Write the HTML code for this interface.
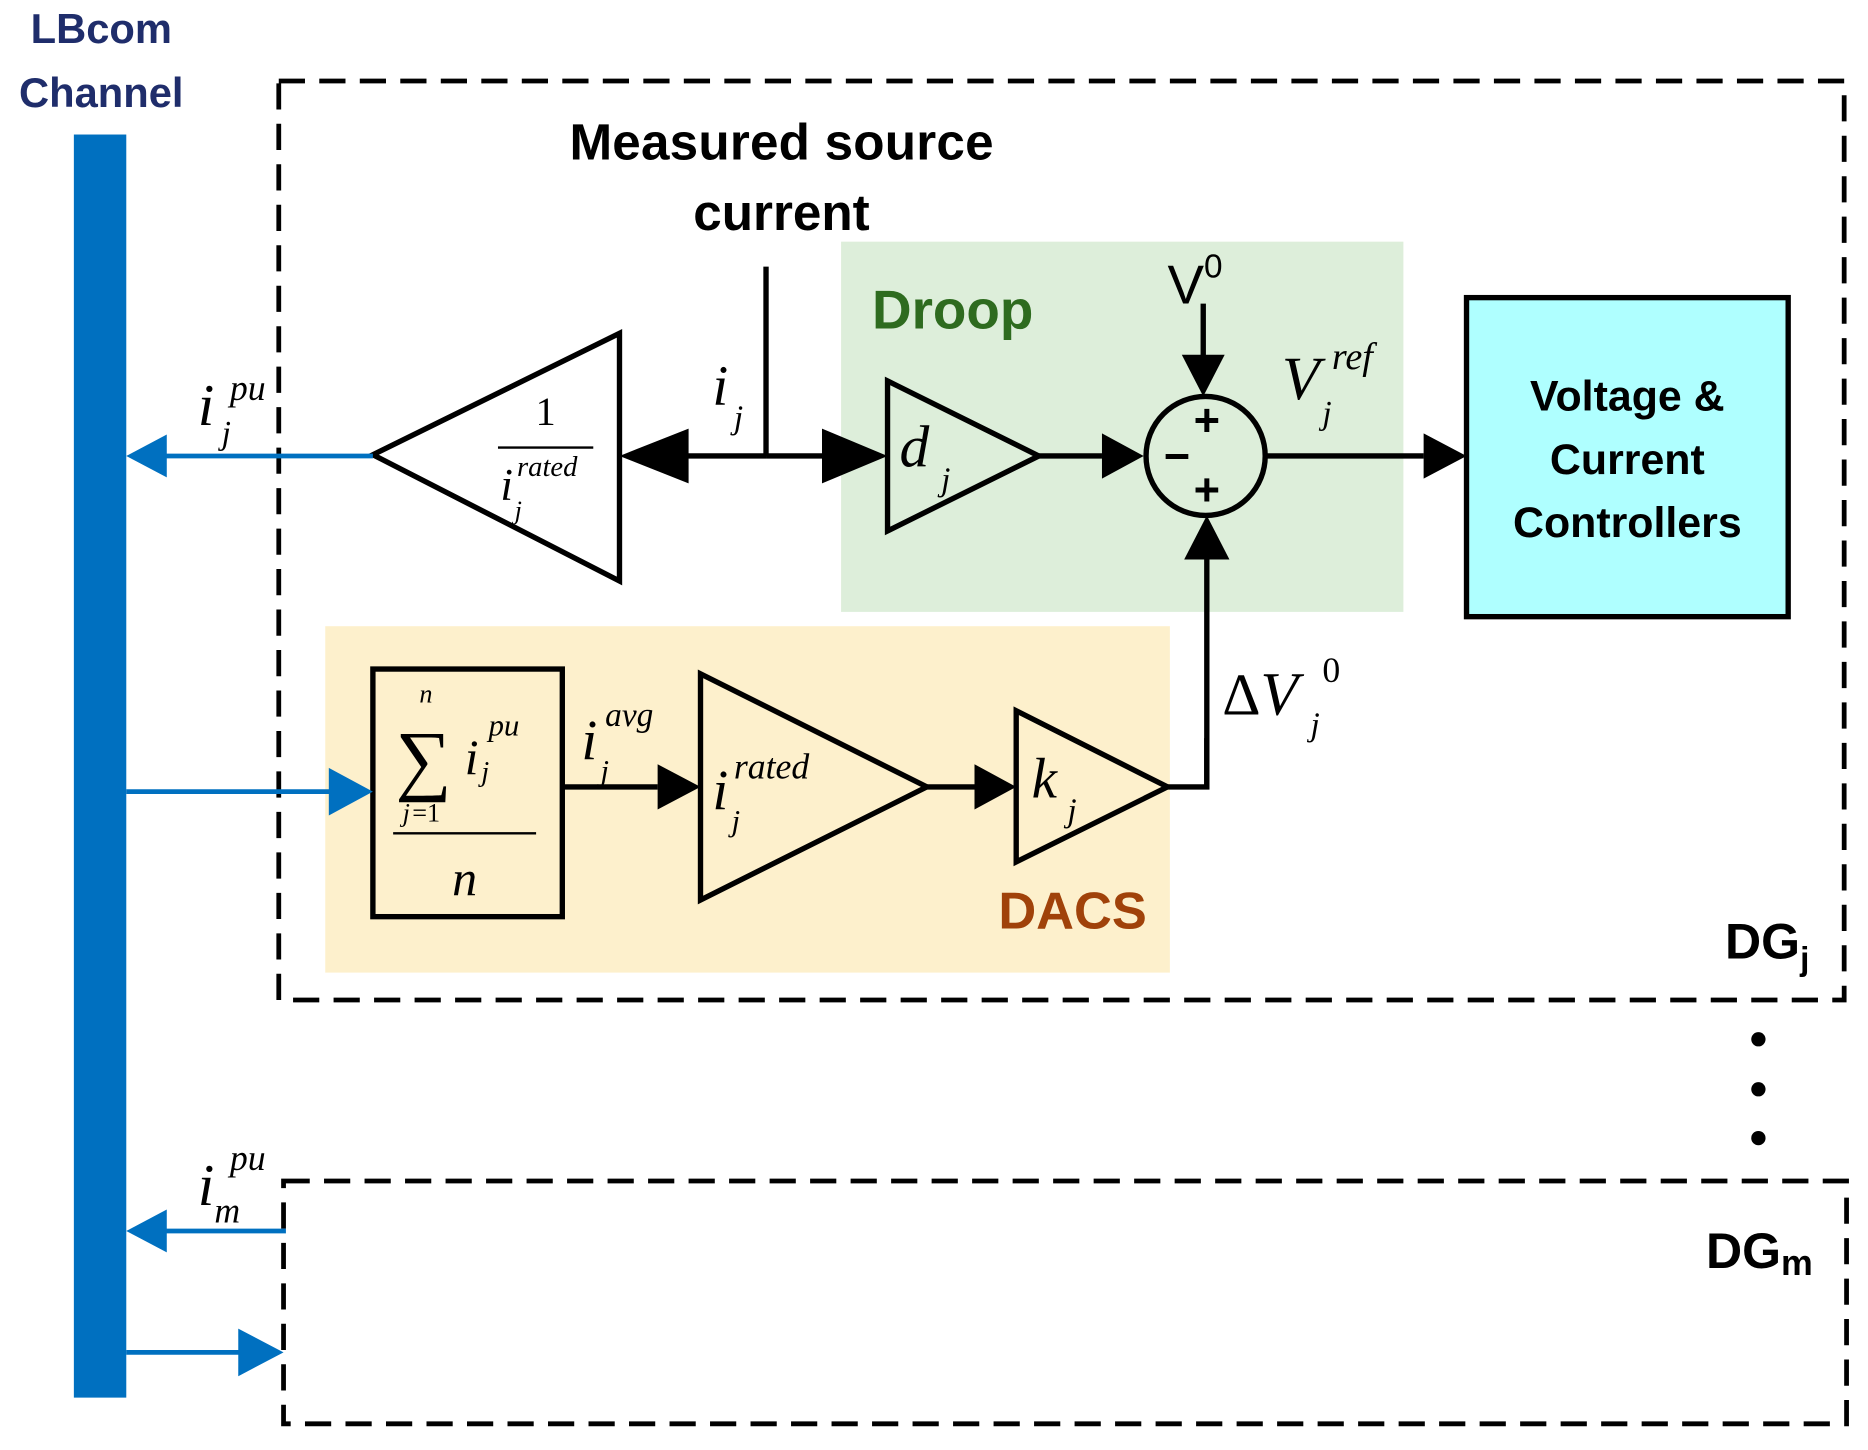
<!DOCTYPE html>
<html><head><style>html,body{margin:0;padding:0;background:#fff}svg{display:block}
.b{font-family:"Liberation Sans",sans-serif;font-weight:bold}
.m{font-family:"Liberation Serif",serif;font-style:italic}
</style></head><body>
<svg width="1868" height="1450" viewBox="0 0 1568 1218" preserveAspectRatio="none" xmlns="http://www.w3.org/2000/svg">
<text class="b" x="85" y="36" font-size="35" fill="#1F2D6B" text-anchor="middle">LBcom</text>
<text class="b" x="85" y="90" font-size="35" fill="#1F2D6B" text-anchor="middle">Channel</text>
<rect x="62" y="113" width="44" height="1061" fill="#0070C0"/>
<rect x="706" y="203" width="472" height="311" fill="#DDEEDA"/>
<rect x="273" y="526" width="709" height="291" fill="#FDF0CC"/>
<rect x="234" y="68" width="1314" height="772" fill="none" stroke="#000" stroke-width="4" stroke-dasharray="22,12"/>
<rect x="238" y="992" width="1312" height="204" fill="none" stroke="#000" stroke-width="4" stroke-dasharray="22,12"/>
<text class="b" x="656" y="134" font-size="43" text-anchor="middle" textLength="356">Measured source</text>
<text class="b" x="656" y="193" font-size="43" text-anchor="middle">current</text>
<text class="b" x="732" y="276" font-size="46" fill="#2E6B1F">Droop</text>
<text class="b" x="838" y="780" font-size="44" fill="#A0420A">DACS</text>
<text class="b" x="1448" y="805" font-size="42">DG<tspan font-size="28" dy="10">j</tspan></text>
<text class="b" x="1432" y="1065" font-size="42">DG<tspan font-size="30" dy="6">m</tspan></text>
<g fill="#000"><circle cx="1476" cy="873" r="6"/><circle cx="1476" cy="915" r="6"/><circle cx="1476" cy="956" r="6"/></g>
<g stroke="#000" stroke-width="4.5" fill="none">
<line x1="643" y1="224" x2="643" y2="383"/>
<polygon points="313,382 520,280 520,488" fill="#fff"/>
<line x1="643" y1="383" x2="560" y2="383"/>
<line x1="643" y1="383" x2="705" y2="383"/>
<polygon points="745,320 745,446 872,383"/>
<line x1="872" y1="383" x2="925" y2="383"/>
<circle cx="1012" cy="383" r="50"/>
<line x1="1010" y1="255" x2="1010" y2="300"/>
<line x1="1062" y1="383" x2="1195" y2="383"/>
<rect x="1231" y="250" width="270" height="268" fill="#AFFFFF"/>
<line x1="1013" y1="661" x2="1013" y2="470"/>
<rect x="313" y="562" width="159" height="208"/>
<line x1="330" y1="700" x2="450" y2="700" stroke-width="2"/>
<line x1="472" y1="661" x2="552" y2="661"/>
<polygon points="588,566 588,756 778,661"/>
<line x1="778" y1="661" x2="818" y2="661"/>
<polygon points="853,597 853,724 980,661"/>
<polyline points="980,661 1013,661 1013,620"/>
</g>
<g fill="#000">
<polygon points="520,383 578,360 578,406"/>
<polygon points="745,383 690,360 690,406"/>
<polygon points="960,383 925,364 925,402"/>
<polygon points="1010,333 992,298 1028,298"/>
<polygon points="1231,383 1195,364 1195,402"/>
<polygon points="1013,433 994,470 1032,470"/>
<polygon points="588,661 552,642 552,680"/>
<polygon points="853,661 818,642 818,680"/>
</g>
<g stroke="#0070C0" stroke-width="4">
<line x1="313" y1="383" x2="130" y2="383"/>
<line x1="106" y1="665" x2="280" y2="665"/>
<line x1="240" y1="1034" x2="130" y2="1034"/>
<line x1="106" y1="1136" x2="205" y2="1136"/>
</g>
<g fill="#0070C0">
<polygon points="106,383 140,365 140,401"/>
<polygon points="313,665 276,645 276,685"/>
<polygon points="106,1034 140,1016 140,1052"/>
<polygon points="238,1136 200,1116 200,1156"/>
</g>
<text class="b" x="1013" y="366" font-size="38" text-anchor="middle">+</text>
<text class="b" x="1013" y="424" font-size="38" text-anchor="middle">+</text>
<text class="b" x="988" y="396" font-size="38" text-anchor="middle">−</text>
<text class="b" x="1366" y="345" font-size="36" text-anchor="middle">Voltage &amp;</text>
<text class="b" x="1366" y="398" font-size="36" text-anchor="middle">Current</text>
<text class="b" x="1366" y="451" font-size="36" text-anchor="middle">Controllers</text>
<text x="980" y="255" font-family="Liberation Sans,sans-serif" font-size="46">V<tspan font-size="28" dy="-22">0</tspan></text>
<text class="m" x="166" y="357" font-size="50">i</text><text class="m" x="193" y="336" font-size="30">pu</text><text class="m" x="186" y="373" font-size="28">j</text>
<text class="m" x="166" y="1012" font-size="50">i</text><text class="m" x="193" y="983" font-size="30">pu</text><text class="m" x="180" y="1027" font-size="30">m</text>
<text x="458" y="357" font-family="Liberation Serif,serif" font-size="34" text-anchor="middle">1</text>
<line x1="418" y1="376" x2="498" y2="376" stroke="#000" stroke-width="2"/>
<text class="m" x="420" y="420" font-size="38">i</text><text class="m" x="434" y="400" font-size="24">rated</text><text class="m" x="432" y="436" font-size="22">j</text>
<text class="m" x="598" y="340" font-size="48">i</text><text class="m" x="616" y="360" font-size="28">j</text>
<text class="m" x="755" y="392" font-size="50">d</text><text class="m" x="790" y="412" font-size="28">j</text>
<text class="m" x="1076" y="335" font-size="52">V</text><text class="m" x="1118" y="310" font-size="32">ref</text><text class="m" x="1110" y="356" font-size="28">j</text>
<text x="1026" y="600" font-family="Liberation Serif,serif" font-size="50">Δ</text><text class="m" x="1058" y="600" font-size="52">V</text><text x="1110" y="573" font-family="Liberation Serif,serif" font-size="30">0</text><text class="m" x="1100" y="618" font-size="28">j</text>
<text x="332" y="660" font-family="Liberation Serif,serif" font-size="66">∑</text>
<text class="m" x="352" y="590" font-size="22">n</text>
<text class="m" x="338" y="690" font-size="22">j</text><text x="346" y="690" font-family="Liberation Serif,serif" font-size="22">=1</text>
<text class="m" x="390" y="650" font-size="42">i</text><text class="m" x="410" y="618" font-size="26">pu</text><text class="m" x="404" y="656" font-size="24">j</text>
<text class="m" x="390" y="752" font-size="42" text-anchor="middle">n</text>
<text class="m" x="488" y="638" font-size="48">i</text><text class="m" x="508" y="610" font-size="28">avg</text><text class="m" x="504" y="656" font-size="26">j</text>
<text class="m" x="598" y="680" font-size="48">i</text><text class="m" x="616" y="654" font-size="30">rated</text><text class="m" x="614" y="698" font-size="26">j</text>
<text class="m" x="866" y="670" font-size="48">k</text><text class="m" x="896" y="690" font-size="28">j</text>
</svg>
</body></html>
